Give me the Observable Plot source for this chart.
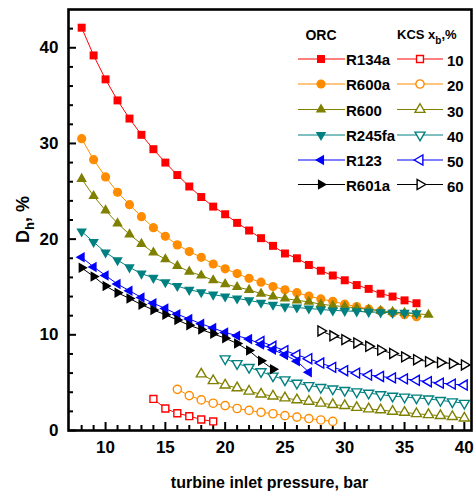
<!DOCTYPE html>
<html><head><meta charset="utf-8">
<script src="https://cdn.jsdelivr.net/npm/d3@7"></script>
<script src="https://cdn.jsdelivr.net/npm/@observablehq/plot@0.6"></script>
<style>
body{margin:0;background:#fff}
#chart{position:relative;width:475px;height:493px}
</style>
</head><body><div id="chart"></div>
<script>
// ---- data ----
const orcNames = ["R134a", "R600a", "R600", "R245fa", "R123", "R601a"];
const kcsNames = ["10", "20", "30", "40", "50", "60"];
const seriesColors = ["#ff0000", "#ff8c00", "#808000", "#008080", "#0000ff", "#000000"];

// ORC series: first pressure (bar) and D_h values (%) at 1-bar steps
const orcStart = [8, 8, 8, 8, 8, 8];
const R134a = [42.1, 39.2, 36.7, 34.5, 32.6, 30.9, 29.4, 28.0, 26.7, 25.5, 24.4, 23.4, 22.6, 21.7, 20.9, 20.1, 19.3, 18.5, 18.0, 17.3, 16.7, 16.2, 15.7, 15.2, 14.8, 14.3, 14.0, 13.6, 13.3];
const R600a = [30.5, 28.3, 26.5, 24.9, 23.6, 22.35, 21.2, 20.3, 19.4, 18.7, 18.1, 17.4, 16.9, 16.4, 15.9, 15.5, 15.05, 14.7, 14.4, 14.05, 13.75, 13.5, 13.2, 12.95, 12.7, 12.5, 12.3, 12.1, 11.9];
const R600 = [26.3, 24.5, 23.0, 21.65, 20.5, 19.5, 18.6, 17.9, 17.2, 16.6, 16.2, 15.7, 15.3, 15.0, 14.7, 14.3, 14.0, 13.8, 13.6, 13.45, 13.2, 13.05, 12.95, 12.8, 12.65, 12.5, 12.4, 12.3, 12.2, 12.1];
const R245fa = [20.8, 19.7, 18.6, 17.8, 17.05, 16.4, 15.95, 15.5, 15.1, 14.7, 14.45, 14.2, 14.0, 13.8, 13.6, 13.35, 13.15, 12.95, 12.85, 12.75, 12.65, 12.55, 12.5, 12.45, 12.4, 12.35, 12.3, 12.3, 12.25];
const R123 = [18.1, 17.1, 16.2, 15.3, 14.6, 13.9, 13.3, 12.75, 12.15, 11.65, 11.15, 10.7, 10.25, 9.9, 9.55, 9.0, 8.45, 7.9, 7.25, 6.1];
const R601a = [17.0, 16.1, 15.1, 14.4, 13.8, 13.15, 12.6, 12.1, 11.55, 11.0, 10.55, 10.1, 9.65, 9.1, 8.35, 7.3, 6.4];

// KCS series (x_b = 10..60 %)
const kcsStart = [14, 16, 18, 20, 23, 28];
const KCS10 = [3.3, 2.3, 1.8, 1.5, 1.15, 0.95];
const KCS20 = [4.3, 3.65, 3.2, 2.85, 2.6, 2.3, 2.1, 1.9, 1.75, 1.55, 1.4, 1.25, 1.1, 0.95];
const KCS30 = [5.9, 5.2, 4.75, 4.45, 4.1, 3.8, 3.6, 3.4, 3.2, 3.05, 2.85, 2.7, 2.6, 2.4, 2.25, 2.15, 2.0, 1.9, 1.75, 1.65, 1.55, 1.45, 1.3];
const KCS40 = [7.5, 7.0, 6.6, 6.15, 5.7, 5.3, 4.95, 4.7, 4.5, 4.35, 4.2, 4.05, 3.9, 3.75, 3.6, 3.5, 3.4, 3.3, 3.15, 3.0, 2.85];
const KCS50 = [9.3, 8.8, 8.35, 7.9, 7.5, 7.05, 6.6, 6.25, 6.0, 5.8, 5.65, 5.5, 5.4, 5.25, 5.1, 4.95, 4.85, 4.75];
const KCS60 = [10.4, 9.9, 9.5, 9.15, 8.8, 8.4, 8.05, 7.7, 7.4, 7.2, 7.1, 7.0, 6.85];

// axis ticks
const xMajor = [10, 15, 20, 25, 30, 35, 40];
const xMinor = [8, 9, 11, 12, 13, 14, 16, 17, 18, 19, 21, 22, 23, 24, 26, 27, 28, 29, 31, 32, 33, 34, 36, 37, 38, 39];
const yMajor = [0, 10, 20, 30, 40];
const yMinor = [2, 4, 6, 8, 12, 14, 16, 18, 22, 24, 26, 28, 32, 34, 36, 38, 42];

// ---- symbols ----
function tri(rot) {
  return {draw(ctx, size) {
    const s3 = Math.sqrt(3);
    const y = -Math.sqrt(size / (s3 * 3));
    const pts = [[0, 2 * y], [-s3 * y, -y], [s3 * y, -y]];
    const c = Math.cos(rot), s = Math.sin(rot);
    pts.forEach(([px, py], i) => {
      const X = px * c - py * s, Y = px * s + py * c;
      i ? ctx.lineTo(X, Y) : ctx.moveTo(X, Y);
    });
    ctx.closePath();
  }};
}
const symbols = [d3.symbolSquare, d3.symbolCircle, tri(0), tri(Math.PI), tri(-Math.PI / 2), tri(Math.PI / 2)];
const orcR = [4.5, 4.6, 3.9, 3.9, 3.9, 3.9];
const kcsR = [3.9, 4.1, 3.7, 3.7, 3.7, 3.7];

const orcVals = [R134a, R600a, R600, R245fa, R123, R601a];
const kcsVals = [KCS10, KCS20, KCS30, KCS40, KCS50, KCS60];
const toRows = (vals, start) => vals.map((v, i) => ({p: start + i, v}));

const W = 475, H = 493;
const mL = 68, mR = 4, mT = 9, mB = 63;
const fw = W - mL - mR, fh = H - mT - mB;

const marks = [];
marks.push(Plot.tickY(yMajor, {y: d => d, insetRight: fw - 8, stroke: "black", strokeWidth: 2}));
marks.push(Plot.tickY(yMinor, {y: d => d, insetRight: fw - 5, stroke: "black", strokeWidth: 2}));
marks.push(Plot.tickX(xMajor, {x: d => d, insetTop: fh - 8, stroke: "black", strokeWidth: 2}));
marks.push(Plot.tickX(xMinor, {x: d => d, insetTop: fh - 5, stroke: "black", strokeWidth: 2}));

kcsVals.forEach((vals, i) => {
  const rows = toRows(vals, kcsStart[i]);
  marks.push(Plot.line(rows, {x: "p", y: "v", stroke: seriesColors[i], strokeWidth: 1}));
  marks.push(Plot.dot(rows, {x: "p", y: "v", symbol: symbols[i], r: kcsR[i], fill: "white", stroke: seriesColors[i], strokeWidth: 1.4}));
});
orcVals.forEach((vals, i) => {
  const rows = toRows(vals, orcStart[i]);
  marks.push(Plot.line(rows, {x: "p", y: "v", stroke: seriesColors[i], strokeWidth: 1}));
  marks.push(Plot.dot(rows, {x: "p", y: "v", symbol: symbols[i], r: orcR[i], fill: seriesColors[i], stroke: "none"}));
});
marks.push(Plot.frame({stroke: "black", strokeWidth: 2.6}));
marks.push(Plot.axisY(yMajor, {tickSize: 0, tickPadding: 10, label: null}));
marks.push(Plot.axisX(xMajor, {tickSize: 0, tickPadding: 10, label: null}));

const chart = Plot.plot({
  width: W, height: H,
  marginLeft: mL, marginRight: mR, marginTop: mT, marginBottom: mB,
  x: {domain: [6.9, 40.6]},
  y: {domain: [0, 44]},
  style: {fontFamily: "'Liberation Sans', Arial, sans-serif", fontSize: "17px", fontWeight: "bold", color: "black", background: "white"},
  marks
});
document.getElementById("chart").appendChild(chart);

// ---- titles & legend ----
const svg = d3.select(chart);
const font = "'Liberation Sans', Arial, sans-serif";
svg.append("text").attr("x", mL + fw / 2).attr("y", 488).attr("text-anchor", "middle")
  .attr("font-family", font).attr("font-weight", "bold").attr("font-size", 16).attr("fill", "black")
  .text("turbine inlet pressure, bar");
const yt = svg.append("text").attr("transform", `translate(29,${mT + fh / 2}) rotate(-90)`).attr("text-anchor", "middle")
  .attr("font-family", font).attr("font-weight", "bold").attr("font-size", 18).attr("fill", "black");
yt.append("tspan").text("D");
yt.append("tspan").attr("font-size", 13).attr("dy", 5).text("h");
yt.append("tspan").attr("dy", -5).text(", %");

const lg = svg.append("g").attr("font-family", font).attr("font-weight", "bold").attr("fill", "black").attr("text-anchor", "start");
lg.append("text").attr("x", 321).attr("y", 40).attr("text-anchor", "middle").attr("font-size", 14).text("ORC");
const kh = lg.append("text").attr("x", 397).attr("y", 39).attr("font-size", 13).attr("text-anchor", "start");
kh.append("tspan").text("KCS x");
kh.append("tspan").attr("font-size", 10).attr("dy", 5).text("b");
kh.append("tspan").attr("dy", -5).text(",%");
const rowY = [59, 84, 109.5, 135, 160, 184.5];
orcNames.forEach((name, i) => {
  const y = rowY[i], c = seriesColors[i];
  lg.append("line").attr("x1", 298).attr("x2", 345).attr("y1", y).attr("y2", y).attr("stroke", c).attr("stroke-width", 1);
  lg.append("path").attr("transform", `translate(321,${y})`)
    .attr("d", d3.symbol().type(symbols[i]).size(Math.PI * orcR[i] * orcR[i])()).attr("fill", c);
  lg.append("text").attr("x", 346).attr("y", y + 6).attr("font-size", 15).attr("text-anchor", "start").text(name);
  lg.append("line").attr("x1", 397).attr("x2", 443).attr("y1", y).attr("y2", y).attr("stroke", c).attr("stroke-width", 1);
  lg.append("path").attr("transform", `translate(420,${y})`)
    .attr("d", d3.symbol().type(symbols[i]).size(Math.PI * kcsR[i] * kcsR[i])())
    .attr("fill", "white").attr("stroke", c).attr("stroke-width", 1.4);
  lg.append("text").attr("x", 447).attr("y", y + 7).attr("font-size", 15).attr("text-anchor", "start").text(kcsNames[i]);
});
</script>
</body></html>
